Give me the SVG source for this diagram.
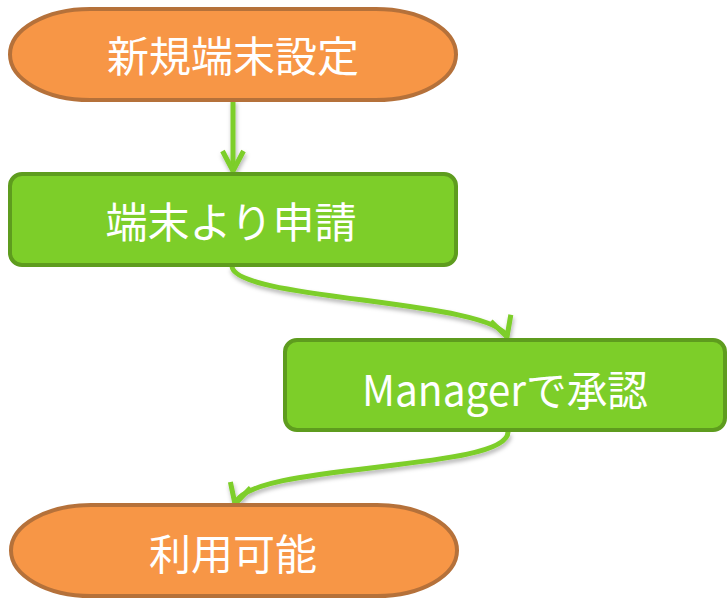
<svg xmlns="http://www.w3.org/2000/svg" width="728" height="600" viewBox="0 0 728 600">
<style>
.term{fill:#F79646;stroke:#B5713A;stroke-width:4}
.proc{fill:#7DCE29;stroke:#5E9C1E;stroke-width:4}
.lbl{font-family:"Noto Sans CJK JP","Noto Sans",sans-serif;font-size:42px;fill:#FFFFFF;text-anchor:middle}
.conn{fill:none;stroke:#7DCE29;stroke-width:5}
</style>
<defs>
<filter id="sh" x="-20%" y="-20%" width="140%" height="160%">
<feDropShadow dx="1" dy="3" stdDeviation="2" flood-color="#000" flood-opacity="0.3"/>
</filter>
<marker id="arr" markerUnits="userSpaceOnUse" markerWidth="30" markerHeight="30" viewBox="-24 -15 30 30" refX="0" refY="0" orient="auto" overflow="visible">
<path d="M-20,-10.5 L0,0 L-20,10.5" fill="none" stroke="#7DCE29" stroke-width="5" stroke-linejoin="miter"/>
</marker>
</defs>
<g id="connectors" filter="url(#sh)">
<path class="conn" d="M233,100 L233,171" marker-end="url(#arr)"/>
<path class="conn" d="M232,266 C232,300 495,300 507,337" marker-end="url(#arr)"/>
<path class="conn" d="M508,432 C508,472 247,462 235,504" marker-end="url(#arr)"/>
</g>
<g id="node1">
<rect class="term" x="10" y="9" width="446" height="91" rx="80" ry="45.5"/>
<text class="lbl" x="233" y="72">新規端末設定</text>
</g>
<g id="node2">
<rect class="proc" x="10" y="174" width="446" height="91" rx="12"/>
<text class="lbl" x="231" y="238">端末より申請</text>
</g>
<g id="node3">
<rect class="proc" x="285" y="340" width="440" height="90" rx="12"/>
<text class="lbl" x="505" y="406" textLength="286" lengthAdjust="spacingAndGlyphs">Managerで承認</text>
</g>
<g id="node4">
<rect class="term" x="11" y="505" width="446" height="91" rx="80" ry="45.5"/>
<text class="lbl" x="233" y="570">利用可能</text>
</g>
</svg>
